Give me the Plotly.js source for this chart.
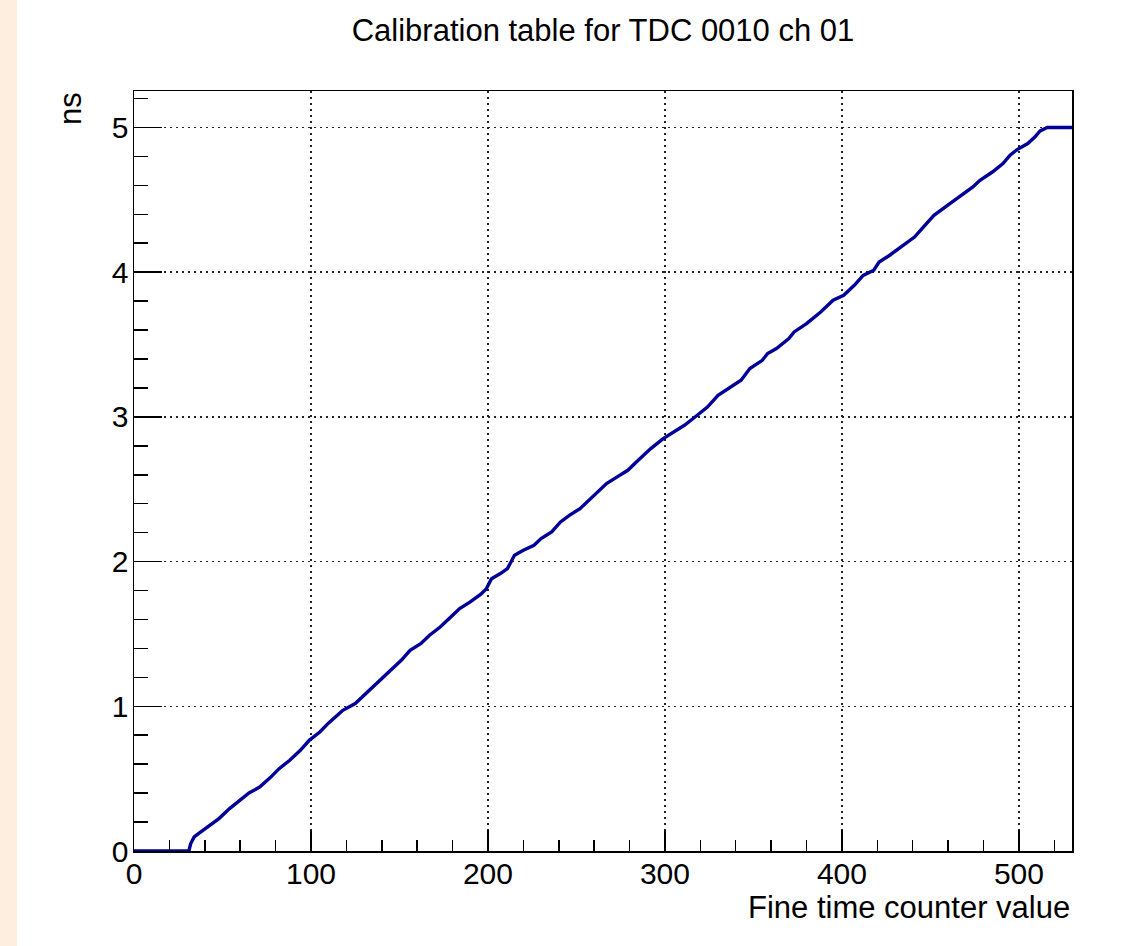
<!DOCTYPE html>
<html>
<head>
<meta charset="utf-8">
<script src="https://cdn.plot.ly/plotly-3.0.1.min.js"></script>
<style>
  html, body { margin:0; padding:0; }
  body { background: linear-gradient(to right, #fdeedf 0px, #fdeedf 17px, #ffffff 17px); width:1145px; height:946px; overflow:hidden; }
  #chart { width:1145px; height:946px; }
</style>
</head>
<body>
<div id="chart"></div>
<script>
// Fine time counter value (x) and calibrated time in ns (y)
const counter = [0, 30, 31, 32, 34, 37, 43, 48, 54, 60, 65, 71, 77, 82, 88, 94, 99, 105, 110, 116, 118,
  125, 129, 135, 141, 146, 151, 156, 162, 167, 173, 179, 184, 190, 196, 199, 201, 202, 207, 211, 213,
  215, 220, 226, 230, 236, 241, 246, 252, 257, 262, 267, 273, 279, 284, 292, 299, 305, 311, 317, 324,
  330, 336, 343, 348, 355, 358, 363, 370, 373, 380, 388, 395, 401, 407, 412, 418, 421, 427, 433, 441,
  446, 452, 461, 469, 474, 478, 485, 491, 495, 499, 505, 509, 512, 516, 530];
const timeNs = [0, 0, 0.0, 0.05, 0.097, 0.125, 0.178, 0.224, 0.293, 0.35, 0.401, 0.442, 0.507, 0.569, 0.627, 0.696, 0.765, 0.822, 0.885, 0.95, 0.972,
  1.019, 1.064, 1.133, 1.202, 1.26, 1.318, 1.387, 1.433, 1.491, 1.548, 1.617, 1.675, 1.721, 1.775, 1.81, 1.86, 1.882, 1.917, 1.952, 1.997,
  2.044, 2.078, 2.113, 2.159, 2.205, 2.274, 2.32, 2.366, 2.424, 2.481, 2.539, 2.585, 2.631, 2.69, 2.781, 2.85, 2.896, 2.942, 2.999, 3.068,
  3.149, 3.196, 3.253, 3.334, 3.391, 3.438, 3.472, 3.541, 3.587, 3.645, 3.725, 3.806, 3.84, 3.909, 3.978, 4.013, 4.07, 4.117, 4.174, 4.243,
  4.312, 4.393, 4.474, 4.543, 4.589, 4.635, 4.692, 4.75, 4.808, 4.847, 4.889, 4.934, 4.976, 5.0, 5.0];

const titleText = "Calibration table for TDC 0010 ch 01";
const xTitle = "Fine time counter value";
const yTitle = "ns";

const FONT = "Liberation Sans, Arial, Helvetica, sans-serif";

const trace = {
  x: counter, y: timeNs, type: "scatter", mode: "lines",
  line: { color: "#000099", width: 3.4 },
  hoverinfo: "skip"
};

const layout = {
  width: 1145, height: 946,
  margin: { l: 134, r: 73, t: 91, b: 95, pad: 0 },
  paper_bgcolor: "rgba(0,0,0,0)",
  plot_bgcolor: "#ffffff",
  showlegend: false,
  font: { family: FONT, size: 30, color: "#000000" },
  title: { text: titleText, x: 0.5, xref: "paper", xanchor: "center", y: 1 - 30/946, yref: "container", yanchor: "middle",
           font: { family: FONT, size: 31, color: "#000" } },
  xaxis: {
    range: [0, 530], dtick: 100, tick0: 0,
    ticks: "inside", ticklen: 21, tickwidth: 1.5, tickcolor: "#000",
    showline: true, mirror: true, linecolor: "#000", linewidth: 1.5,
    showgrid: true, gridcolor: "#222", griddash: "2px,4px", gridwidth: 1.5,
    zeroline: false,
    minor: { dtick: 20, tick0: 0, ticks: "inside", ticklen: 11, tickwidth: 1.5, tickcolor: "#000", showgrid: false },
    tickfont: { family: FONT, size: 30, color: "#000" },
    ticklabelstandoff: -5
  },
  yaxis: {
    range: [0, 5.252], dtick: 1, tick0: 0,
    ticks: "inside", ticklen: 28, tickwidth: 1.5, tickcolor: "#000",
    showline: true, mirror: true, linecolor: "#000", linewidth: 1.5,
    showgrid: true, gridcolor: "#222", griddash: "2px,4px", gridwidth: 1.5,
    zeroline: false,
    minor: { dtick: 0.2, tick0: 0, ticks: "inside", ticklen: 14, tickwidth: 1.5, tickcolor: "#000", showgrid: false },
    tickfont: { family: FONT, size: 30, color: "#000" },
    ticklabelstandoff: -2
  },
  annotations: [
    { text: xTitle, xref: "paper", yref: "paper", x: 1, y: -(907-851)/760, xanchor: "right", yanchor: "middle",
      showarrow: false, font: { family: FONT, size: 31, color: "#000" } },
    { text: yTitle, xref: "paper", yref: "paper", x: (70-134)/937, y: (851-108)/760, xanchor: "center", yanchor: "middle",
      textangle: -90, showarrow: false, font: { family: FONT, size: 31, color: "#000" } }
  ]
};

Plotly.newPlot("chart", [trace], layout, { displayModeBar: false, staticPlot: true });
</script>
</body>
</html>
